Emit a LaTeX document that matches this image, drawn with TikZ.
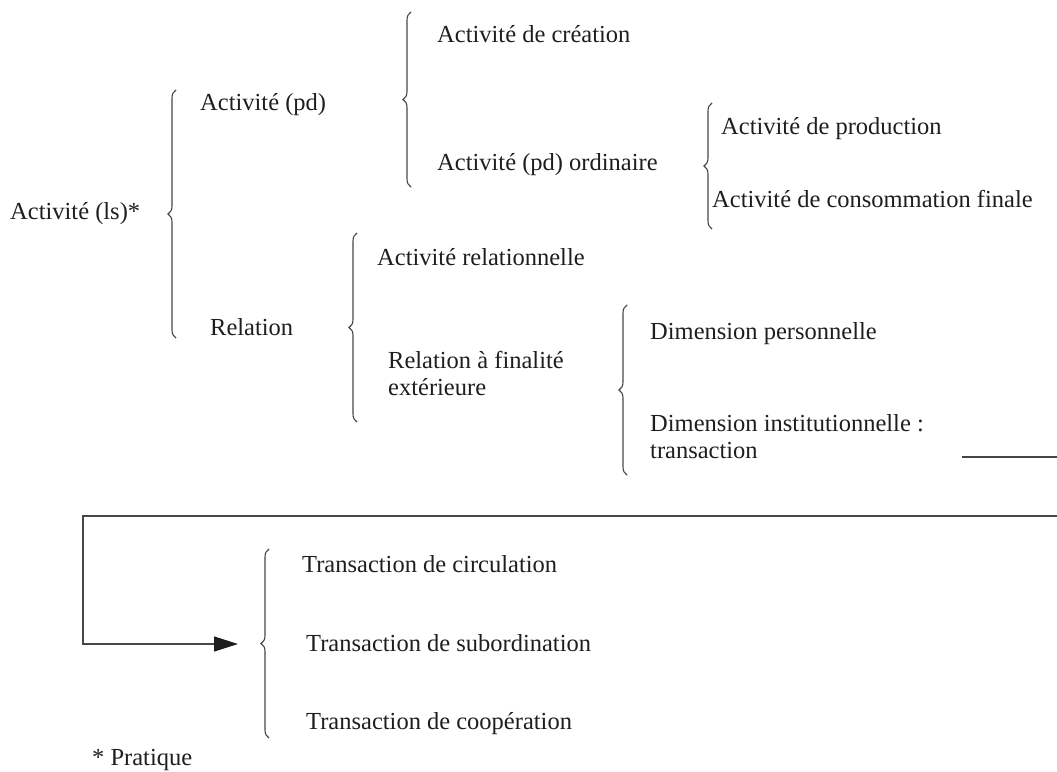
\documentclass[tikz,border=0pt]{standalone}
\usepackage{fontspec}
\setmainfont{Liberation Serif}
\usetikzlibrary{decorations.pathreplacing,arrows.meta}
\definecolor{ink}{RGB}{30,30,30}
\definecolor{rulec}{RGB}{70,70,70}
\begin{document}
\begin{tikzpicture}[x=1pt,y=-1pt,
 lbl/.style={anchor=base west,inner sep=0pt,text=ink,font=\fontsize{24.5}{27}\selectfont},
 lbltwo/.style={anchor=west,inner sep=0pt,text=ink,align=left,font=\fontsize{24.5}{27}\selectfont},
 brc/.style={draw=rulec,line width=1.1pt,decorate,decoration={brace,amplitude=8pt}},
 conn/.style={draw=rulec,line width=1.4pt,line join=miter}]
\useasboundingbox (0,0) rectangle (1057,771);
% labels
\node[lbl] (ls) at (10,219) {Activité (ls)*};
\node[lbl] (pd) at (200,110) {Activité (pd)};
\node[lbl] (rel) at (210,335) {Relation};
\node[lbl] (crea) at (437,42) {Activité de création};
\node[lbl] (ord) at (437,170) {Activité (pd) ordinaire};
\node[lbl] (prod) at (721,134) {Activité de production};
\node[lbl] (cons) at (712,207) {Activité de consommation finale};
\node[lbl] (arel) at (377,265) {Activité relationnelle};
\node[lbltwo] (ext) at (388,373) {Relation à finalité\\extérieure};
\node[lbl] (pers) at (650,339) {Dimension personnelle};
\node[lbltwo] (inst) at (650,437) {Dimension institutionnelle :\\transaction};
\node[lbl] (circ) at (302,572) {Transaction de circulation};
\node[lbl] (sub) at (306,651) {Transaction de subordination};
\node[lbl] (coop) at (306,729) {Transaction de coopération};
\node[lbl] (note) at (92,765) {* Pratique};
% braces
\coordinate (b1b) at (176,338); \coordinate (b1t) at (176,90);
\coordinate (b2b) at (411,187); \coordinate (b2t) at (411,12);
\coordinate (b3b) at (712,229); \coordinate (b3t) at (712,103);
\coordinate (b4b) at (357,422); \coordinate (b4t) at (357,233);
\coordinate (b5b) at (627,475); \coordinate (b5t) at (627,305);
\coordinate (b6b) at (269,738); \coordinate (b6t) at (269,549);
\draw[brc] (b1b) -- (b1t);
\draw[brc] (b2b) -- (b2t);
\draw[brc] (b3b) -- (b3t);
\draw[brc] (b4b) -- (b4t);
\draw[brc] (b5b) -- (b5t);
\draw[brc] (b6b) -- (b6t);
% connectors
\coordinate (t1) at (962,457); \coordinate (t2) at (1057,457);
\draw[conn] (t1) -- (t2);
\coordinate (r1) at (1057,516); \coordinate (r2) at (83,516);
\coordinate (r3) at (83,644); \coordinate (tip) at (238,644);
\draw[conn,-{Triangle[length=24pt,width=15pt,color=ink,fill=ink]}] (r1) -- (r2) -- (r3) -- (tip);
\end{tikzpicture}
\end{document}
